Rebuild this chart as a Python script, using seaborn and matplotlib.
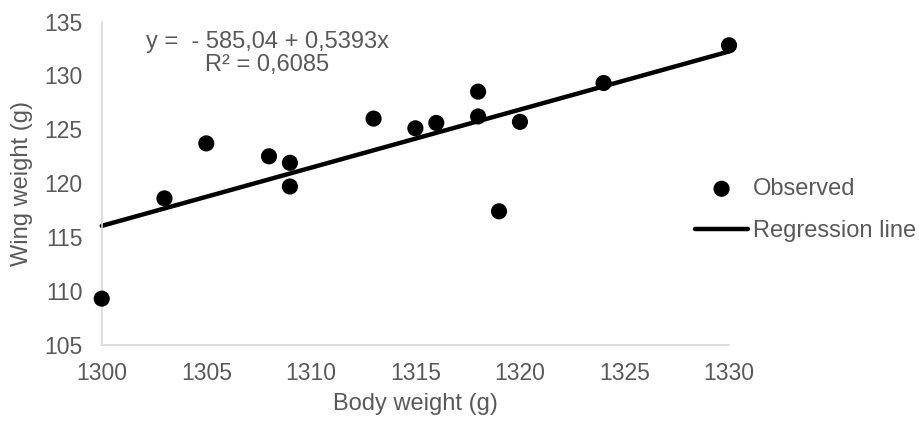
#-------------------------------------------------------------------------------
# plot.py
# Scatter of wing weight vs body weight with the fitted regression line
#-------------------------------------------------------------------------------

import numpy as np
import pandas as pd
import matplotlib.pyplot as plt
import seaborn as sns

# --------------------------------------
# Data
# --------------------------------------
body_weight = [1300, 1303, 1305, 1308, 1309, 1309, 1313, 1315, 1316,
               1318, 1318, 1319, 1320, 1324, 1330]
wing_weight = [109.3, 118.6, 123.7, 122.5, 121.9, 119.7, 126.0, 125.1, 125.6,
               128.5, 126.2, 117.4, 125.7, 129.3, 132.8]

intercept = -585.04
slope = 0.5393
r_squared = 0.6085

x_ticks = [1300, 1305, 1310, 1315, 1320, 1325, 1330]
y_ticks = [105, 110, 115, 120, 125, 130, 135]

df = pd.DataFrame({"body": body_weight, "wing": wing_weight})

# regression line evaluated over the observed range
x_fit = np.array([min(body_weight), max(body_weight)])
df_fit = pd.DataFrame({"body": x_fit, "wing": intercept + slope * x_fit})

# --------------------------------------
# Style
# --------------------------------------
sns.set_style("white")
plt.rcParams["font.family"] = ["Liberation Sans", "DejaVu Sans"]
grey = "#595959"
fs = 17

# --------------------------------------
# Plot
# --------------------------------------
fig = plt.figure(figsize=(9.19, 4.23), dpi=100)
ax = fig.add_axes([0.1107, 0.1844, 0.6826, 0.7646])

sns.lineplot(data=df_fit, x="body", y="wing", ax=ax, color="black",
             linewidth=3.2, label="Regression line", clip_on=False)
sns.scatterplot(data=df, x="body", y="wing", ax=ax, color="black", s=135,
                edgecolor="none", label="Observed", clip_on=False, zorder=3)

ax.set_xlim(x_ticks[0], x_ticks[-1])
ax.set_ylim(y_ticks[0], y_ticks[-1])
ax.set_xticks(x_ticks)
ax.set_yticks(y_ticks)
ax.tick_params(length=0, labelsize=16.5, labelcolor=grey)
ax.tick_params(axis="x", pad=12)
ax.tick_params(axis="y", pad=14)

for side in ["top", "right"]:
    ax.spines[side].set_visible(False)
for side in ["left", "bottom"]:
    ax.spines[side].set_color("#D9D9D9")
    ax.spines[side].set_linewidth(1.2)

ax.set_xlabel("Body weight (g)", fontsize=fs, color=grey, labelpad=6)
ax.set_ylabel("Wing weight (g)", fontsize=fs, color=grey, labelpad=8)

# equation text
eq_text = "y =  - {:.2f} + {:.4f}x".format(-intercept, slope).replace(".", ",")
r2_text = "R² = {:.4f}".format(r_squared).replace(".", ",")
fig.text(267 / 919, 1 - 41.7 / 423, eq_text, ha="center", va="center",
         fontsize=fs, color=grey)
fig.text(267 / 919, 1 - 65 / 423, r2_text, ha="center", va="center",
         fontsize=fs, color=grey)

# legend: Observed first, then the line
handles, labels = ax.get_legend_handles_labels()
order = [labels.index("Observed"), labels.index("Regression line")]
leg = ax.legend([handles[i] for i in order], [labels[i] for i in order],
                loc="center left", bbox_to_anchor=(695 / 919, 1 - 210 / 423),
                bbox_transform=fig.transFigure, frameon=False, fontsize=fs,
                handlelength=2.25, handletextpad=0.2, labelspacing=0.85,
                borderpad=0, borderaxespad=0)
for t in leg.get_texts():
    t.set_color(grey)

fig.savefig("out.png", dpi=100)
